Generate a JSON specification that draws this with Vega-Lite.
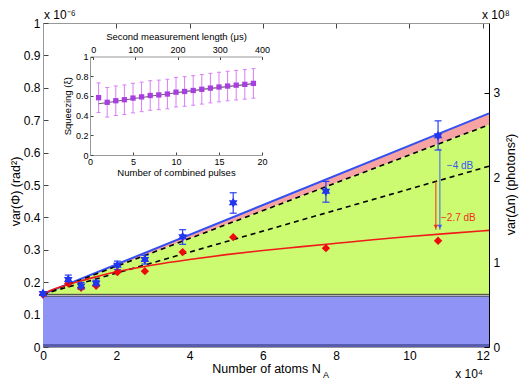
{
"$schema": "https://vega.github.io/schema/vega-lite/v6.json",
"width": 446, "height": 324,
"autosize": {"type": "none"},
"padding": {"left": 43, "top": 23, "right": 33, "bottom": 35},
"background": "white",
"config": {
  "font": "Liberation Sans",
  "view": {"stroke": null},
  "axis": {"grid": false, "labelFont": "Liberation Sans", "titleFont": "Liberation Sans", "titleFontWeight": "normal", "labelColor": "#000", "titleColor": "#000", "labelFontSize": 12, "titleFontSize": 12.5, "tickColor": "#444", "domainColor": "#999", "tickSize": -5, "labelPadding": 8, "labelOverlap": false, "labelBound": false, "labelFlush": false}
},
"datasets": {
  "one": [{}],
  "band": [{"x": 0, "blue": 0.163, "dash": 0.163, "dash2": 0.163}, {"x": 12.17, "blue": 0.721, "dash": 0.686, "dash2": 0.558}],
  "redfit": [
    {"x": 0, "y": 0.163}, {"x": 0.25, "y": 0.177}, {"x": 0.5, "y": 0.186}, {"x": 1, "y": 0.203},
    {"x": 1.5, "y": 0.218}, {"x": 2, "y": 0.232}, {"x": 2.5, "y": 0.243}, {"x": 3, "y": 0.253},
    {"x": 4, "y": 0.27}, {"x": 5, "y": 0.285}, {"x": 6, "y": 0.298}, {"x": 7, "y": 0.309},
    {"x": 8, "y": 0.32}, {"x": 9, "y": 0.331}, {"x": 10, "y": 0.341}, {"x": 11, "y": 0.35}, {"x": 12.17, "y": 0.36}
  ],
  "stars": [
    {"x": 0, "y": 0.165, "lo": 0.16, "hi": 0.171},
    {"x": 0.69, "y": 0.208, "lo": 0.195, "hi": 0.222},
    {"x": 1.04, "y": 0.188, "lo": 0.178, "hi": 0.199},
    {"x": 1.45, "y": 0.197, "lo": 0.187, "hi": 0.206},
    {"x": 2.03, "y": 0.252, "lo": 0.239, "hi": 0.265},
    {"x": 2.78, "y": 0.27, "lo": 0.256, "hi": 0.283},
    {"x": 3.81, "y": 0.34, "lo": 0.317, "hi": 0.362},
    {"x": 5.19, "y": 0.445, "lo": 0.413, "hi": 0.476},
    {"x": 7.72, "y": 0.481, "lo": 0.447, "hi": 0.511},
    {"x": 10.78, "y": 0.652, "lo": 0.608, "hi": 0.698}
  ],
  "diamonds": [
    {"x": 0, "y": 0.162}, {"x": 0.69, "y": 0.196}, {"x": 1.04, "y": 0.183}, {"x": 1.45, "y": 0.189},
    {"x": 2.03, "y": 0.231}, {"x": 2.78, "y": 0.234}, {"x": 3.81, "y": 0.293}, {"x": 5.19, "y": 0.339},
    {"x": 7.72, "y": 0.305}, {"x": 10.78, "y": 0.328}
  ],
  "barrow": [{"x": 10.83, "y": 0.612, "y2": 0.362}],
  "rarrow": [{"x": 10.72, "y": 0.511, "y2": 0.362}],
  "pulses": [
    {"p": 1, "s": 0.582, "lo": 0.432, "hi": 0.732}, {"p": 2, "s": 0.535, "lo": 0.385, "hi": 0.685},
    {"p": 3, "s": 0.551, "lo": 0.401, "hi": 0.701}, {"p": 4, "s": 0.561, "lo": 0.411, "hi": 0.711},
    {"p": 5, "s": 0.578, "lo": 0.428, "hi": 0.728}, {"p": 6, "s": 0.59, "lo": 0.44, "hi": 0.74},
    {"p": 7, "s": 0.604, "lo": 0.454, "hi": 0.754}, {"p": 8, "s": 0.61, "lo": 0.46, "hi": 0.76},
    {"p": 9, "s": 0.619, "lo": 0.469, "hi": 0.769}, {"p": 10, "s": 0.638, "lo": 0.488, "hi": 0.788},
    {"p": 11, "s": 0.645, "lo": 0.495, "hi": 0.795}, {"p": 12, "s": 0.655, "lo": 0.505, "hi": 0.805},
    {"p": 13, "s": 0.667, "lo": 0.517, "hi": 0.817}, {"p": 14, "s": 0.679, "lo": 0.529, "hi": 0.829},
    {"p": 15, "s": 0.69, "lo": 0.54, "hi": 0.84}, {"p": 16, "s": 0.7, "lo": 0.55, "hi": 0.85},
    {"p": 17, "s": 0.709, "lo": 0.559, "hi": 0.859}, {"p": 18, "s": 0.717, "lo": 0.567, "hi": 0.867},
    {"p": 19, "s": 0.727, "lo": 0.577, "hi": 0.877}
  ],
  "pfit": [{"p": 1, "s": 0.52}, {"p": 10, "s": 0.632}, {"p": 19, "s": 0.724}]
},
"layer": [
  {
    "layer": [
      {"data": {"name": "one"}, "mark": {"type": "rect", "color": "#8e93f5"},
       "encoding": {
         "x": {"datum": 0, "type": "quantitative", "scale": {"domain": [0, 12.17], "nice": false, "zero": false}, "axis": null},
         "x2": {"datum": 12.17},
         "y": {"datum": 0, "type": "quantitative", "scale": {"domain": [0, 1], "nice": false, "zero": false}, "axis": null},
         "y2": {"datum": 0.157}}},
      {"data": {"name": "one"}, "mark": {"type": "rect", "color": "#585cae"},
       "encoding": {"x": {"datum": 0, "type": "quantitative", "axis": null}, "x2": {"datum": 12.17}, "y": {"datum": 0, "type": "quantitative", "axis": null}, "y2": {"datum": 0.009}}},
      {"data": {"name": "band"}, "mark": {"type": "area", "color": "#f7a3a3", "opacity": 1},
       "encoding": {"x": {"field": "x", "type": "quantitative", "axis": null}, "y": {"field": "blue", "type": "quantitative", "axis": null}, "y2": {"field": "dash"}}},
      {"data": {"name": "band"}, "mark": {"type": "area", "color": "#ccfb72", "opacity": 1},
       "encoding": {"x": {"field": "x", "type": "quantitative", "axis": null}, "y": {"field": "dash", "type": "quantitative", "axis": null}, "y2": {"datum": 0.163}}},
      {"data": {"name": "one"}, "mark": {"type": "rule", "color": "#222", "strokeWidth": 0.9},
       "encoding": {"x": {"datum": 0, "type": "quantitative", "axis": null}, "x2": {"datum": 12.17}, "y": {"datum": 0.1625, "type": "quantitative", "axis": null}}},
      {"data": {"name": "one"}, "mark": {"type": "rule", "color": "#222", "strokeWidth": 0.9},
       "encoding": {"x": {"datum": 0, "type": "quantitative", "axis": null}, "x2": {"datum": 12.17}, "y": {"datum": 0.157, "type": "quantitative", "axis": null}}},
      {"data": {"name": "band"}, "mark": {"type": "line", "color": "#3450f2", "strokeWidth": 2},
       "encoding": {"x": {"field": "x", "type": "quantitative", "axis": null}, "y": {"field": "blue", "type": "quantitative", "axis": null}}},
      {"data": {"name": "band"}, "mark": {"type": "line", "color": "#000", "strokeWidth": 1.6, "strokeDash": [5, 4]},
       "encoding": {"x": {"field": "x", "type": "quantitative", "axis": null}, "y": {"field": "dash", "type": "quantitative", "axis": null}}},
      {"data": {"name": "band"}, "mark": {"type": "line", "color": "#000", "strokeWidth": 1.6, "strokeDash": [5, 4]},
       "encoding": {"x": {"field": "x", "type": "quantitative", "axis": null}, "y": {"field": "dash2", "type": "quantitative", "axis": null}}},
      {"data": {"name": "redfit"}, "mark": {"type": "line", "color": "#f01a1a", "strokeWidth": 1.6, "interpolate": "monotone"},
       "encoding": {"x": {"field": "x", "type": "quantitative", "axis": null}, "y": {"field": "y", "type": "quantitative", "axis": null}}},
      {"data": {"name": "rarrow"}, "mark": {"type": "rule", "color": "#f03020", "strokeWidth": 1},
       "encoding": {"x": {"field": "x", "type": "quantitative", "axis": null}, "y": {"field": "y", "type": "quantitative", "axis": null}, "y2": {"field": "y2"}}},
      {"data": {"name": "rarrow"}, "mark": {"type": "point", "shape": "triangle-down", "filled": true, "color": "#f03020", "size": 22, "opacity": 1, "yOffset": -3},
       "encoding": {"x": {"field": "x", "type": "quantitative", "axis": null}, "y": {"field": "y2", "type": "quantitative", "axis": null}}},
      {"data": {"name": "barrow"}, "mark": {"type": "rule", "color": "#4060f0", "strokeWidth": 1},
       "encoding": {"x": {"field": "x", "type": "quantitative", "axis": null}, "y": {"field": "y", "type": "quantitative", "axis": null}, "y2": {"field": "y2"}}},
      {"data": {"name": "barrow"}, "mark": {"type": "point", "shape": "triangle-down", "filled": true, "color": "#4060f0", "size": 22, "opacity": 1, "yOffset": -3},
       "encoding": {"x": {"field": "x", "type": "quantitative", "axis": null}, "y": {"field": "y2", "type": "quantitative", "axis": null}}},
      {"data": {"name": "stars"}, "mark": {"type": "rule", "color": "#2a40f0", "strokeWidth": 1.2},
       "encoding": {"x": {"field": "x", "type": "quantitative", "axis": null}, "y": {"field": "lo", "type": "quantitative", "axis": null}, "y2": {"field": "hi"}}},
      {"data": {"name": "stars"}, "mark": {"type": "tick", "orient": "horizontal", "color": "#2a40f0", "size": 7, "thickness": 1.2, "opacity": 1},
       "encoding": {"x": {"field": "x", "type": "quantitative", "axis": null}, "y": {"field": "lo", "type": "quantitative", "axis": null}}},
      {"data": {"name": "stars"}, "mark": {"type": "tick", "orient": "horizontal", "color": "#2a40f0", "size": 7, "thickness": 1.2, "opacity": 1},
       "encoding": {"x": {"field": "x", "type": "quantitative", "axis": null}, "y": {"field": "hi", "type": "quantitative", "axis": null}}},
      {"data": {"name": "diamonds"}, "mark": {"type": "point", "shape": "diamond", "filled": true, "color": "#ee0a0a", "size": 70, "opacity": 1},
       "encoding": {"x": {"field": "x", "type": "quantitative", "axis": null}, "y": {"field": "y", "type": "quantitative", "axis": null}}},
      {"data": {"name": "stars"}, "mark": {"type": "point", "shape": "M0,-1L0.289,-0.5L0.866,-0.5L0.577,0L0.866,0.5L0.289,0.5L0,1L-0.289,0.5L-0.866,0.5L-0.577,0L-0.866,-0.5L-0.289,-0.5Z", "filled": true, "color": "#2236f0", "size": 100, "opacity": 1},
       "encoding": {"x": {"field": "x", "type": "quantitative", "axis": null}, "y": {"field": "y", "type": "quantitative", "axis": null}}},
      {"data": {"name": "one"}, "mark": {"type": "text", "text": "−4 dB", "color": "#3a58f0", "fontSize": 10, "align": "left", "baseline": "alphabetic"},
       "encoding": {"x": {"datum": 11.02, "type": "quantitative", "axis": null}, "y": {"datum": 0.55, "type": "quantitative", "axis": null}}},
      {"data": {"name": "one"}, "mark": {"type": "text", "text": "−2.7 dB", "color": "#f03020", "fontSize": 10, "align": "left", "baseline": "alphabetic"},
       "encoding": {"x": {"datum": 10.86, "type": "quantitative", "axis": null}, "y": {"datum": 0.39, "type": "quantitative", "axis": null}}},
      {"data": {"name": "one"}, "mark": {"type": "text", "text": "x 10⁻⁶", "fontSize": 12, "align": "left", "baseline": "alphabetic", "dx": 1, "dy": -4},
       "encoding": {"x": {"datum": 0, "type": "quantitative", "axis": null}, "y": {"datum": 1, "type": "quantitative", "axis": null}}},
      {"data": {"name": "one"}, "mark": {"type": "text", "text": "x 10⁸", "fontSize": 12, "align": "left", "baseline": "alphabetic", "dx": -7, "dy": -4},
       "encoding": {"x": {"datum": 12.17, "type": "quantitative", "axis": null}, "y": {"datum": 1, "type": "quantitative", "axis": null}}},
      {"data": {"name": "one"}, "mark": {"type": "text", "text": "x 10⁴", "fontSize": 12, "align": "right", "baseline": "alphabetic", "dx": -6, "dy": 31},
       "encoding": {"x": {"datum": 12.17, "type": "quantitative", "axis": null}, "y": {"datum": 0, "type": "quantitative", "axis": null}}},
      {"data": {"name": "one"}, "mark": {"type": "text", "text": "A", "fontSize": 9, "align": "left", "baseline": "alphabetic", "dy": 31},
       "encoding": {"x": {"datum": 7.64, "type": "quantitative", "axis": null}, "y": {"datum": 0, "type": "quantitative", "axis": null}}}
    ]
  },
  {"data": {"name": "one"}, "mark": {"type": "point", "opacity": 0},
   "encoding": {"y": {"datum": 0, "type": "quantitative", "scale": {"domain": [0, 1], "nice": false, "zero": false},
     "axis": {"orient": "left", "values": [0, 0.1, 0.2, 0.3, 0.4, 0.5, 0.6, 0.7, 0.8, 0.9, 1], "format": "~g", "title": "var(Φ)     (rad²)", "labelOverlap": false, "labelBound": false, "titleX": -28, "titleY": 168, "titleAngle": 270, "titleAlign": "center", "titleBaseline": "middle"}}}},
  {"data": {"name": "one"}, "mark": {"type": "point", "opacity": 0},
   "encoding": {"x": {"datum": 0, "type": "quantitative", "scale": {"domain": [0, 12.17], "nice": false, "zero": false},
     "axis": {"orient": "bottom", "values": [0, 2, 4, 6, 8, 10, 12], "format": "d", "title": "Number of atoms N", "titlePadding": 1, "labelOverlap": false, "labelBound": false}}}},
  {"data": {"name": "one"}, "mark": {"type": "point", "opacity": 0},
   "encoding": {"y": {"datum": 0, "type": "quantitative", "scale": {"domain": [0, 3.82], "nice": false, "zero": false},
     "axis": {"orient": "right", "values": [0, 1, 2, 3], "format": "d", "title": "var(Δn)   (photons²)", "labelOverlap": false, "labelBound": false, "titleX": 21, "titleY": 161, "titleAngle": 270, "titleAlign": "center", "titleBaseline": "middle", "domainColor": "#000", "tickColor": "#000", "labelPadding": 9}}}},
  {"data": {"name": "one"}, "mark": {"type": "point", "opacity": 0},
   "encoding": {"x": {"datum": 0, "type": "quantitative", "scale": {"domain": [0, 12.17], "nice": false, "zero": false},
     "axis": {"orient": "top", "values": [0, 2, 4, 6, 8, 10, 12], "labels": false, "title": null}}}},
  {"data": {"name": "one"}, "mark": {"type": "point", "opacity": 0},
   "encoding": {"x": {"datum": 0, "type": "quantitative", "scale": {"domain": [-7.5, 400], "range": [47, 219], "nice": false, "zero": false},
     "axis": {"orient": "top", "offset": -33.5, "values": [0, 100, 200, 300, 400], "title": "Second measurement length (μs)", "labelFontSize": 9, "titleFontSize": 9.5, "tickSize": -3, "labelPadding": 5, "titlePadding": 4, "labelOverlap": false}}}},
  {
    "layer": [
      {"data": {"name": "pulses"}, "mark": {"type": "rule", "color": "#d77ef6", "strokeWidth": 1},
       "encoding": {
         "x": {"field": "p", "type": "quantitative", "scale": {"domain": [0, 20], "range": [47, 219], "nice": false, "zero": false},
               "axis": {"orient": "bottom", "offset": -192, "values": [0, 5, 10, 15, 20], "title": "Number of combined pulses", "labelFontSize": 9, "titleFontSize": 9.5, "tickSize": -3, "labelPadding": 5, "titlePadding": 1, "labelOverlap": false}},
         "y": {"field": "lo", "type": "quantitative", "scale": {"domain": [0, 1], "range": [132, 33.5], "nice": false, "zero": false},
               "axis": {"orient": "left", "offset": -47, "values": [0, 0.2, 0.4, 0.6, 0.8, 1], "format": "~g", "title": "Squeezing (ξ)", "labelFontSize": 9, "titleFontSize": 9.5, "tickSize": -3, "labelPadding": 5, "titlePadding": 3, "labelOverlap": false}},
         "y2": {"field": "hi"}}},
      {"data": {"name": "pulses"}, "mark": {"type": "tick", "orient": "horizontal", "color": "#d77ef6", "size": 4, "thickness": 1, "opacity": 1},
       "encoding": {"x": {"field": "p", "type": "quantitative"}, "y": {"field": "lo", "type": "quantitative"}}},
      {"data": {"name": "pulses"}, "mark": {"type": "tick", "orient": "horizontal", "color": "#d77ef6", "size": 4, "thickness": 1, "opacity": 1},
       "encoding": {"x": {"field": "p", "type": "quantitative"}, "y": {"field": "hi", "type": "quantitative"}}},
      {"data": {"name": "pfit"}, "mark": {"type": "line", "color": "#666", "strokeWidth": 1.2, "interpolate": "monotone"},
       "encoding": {"x": {"field": "p", "type": "quantitative"}, "y": {"field": "s", "type": "quantitative"}}},
      {"data": {"name": "pulses"}, "mark": {"type": "point", "shape": "square", "filled": true, "color": "#a83ee2", "size": 28, "opacity": 1},
       "encoding": {"x": {"field": "p", "type": "quantitative"}, "y": {"field": "s", "type": "quantitative"}}}
    ]
  }
],
"resolve": {"scale": {"x": "independent", "y": "independent"}}
}
